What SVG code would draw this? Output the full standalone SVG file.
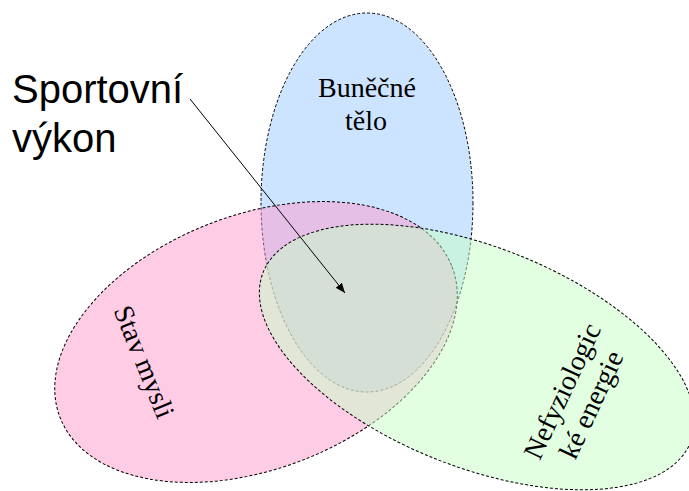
<svg xmlns="http://www.w3.org/2000/svg" width="689" height="491" viewBox="0 0 689 491">
<style>
.ell{stroke:#000;stroke-width:1;stroke-dasharray:3 2}
.lbl{font-family:"Liberation Serif","Times New Roman",serif;font-size:28px;fill:#000;text-anchor:middle}
.big{font-family:"Liberation Sans",Arial,sans-serif;font-size:40px;fill:#000}
</style>
<defs>
<marker id="ah" viewBox="0 0 10 10" refX="10" refY="5" markerWidth="10" markerHeight="10" markerUnits="userSpaceOnUse" orient="auto">
<path d="M0,1 L10,5 L0,9 z" fill="#000"/>
</marker>
</defs>
<rect width="689" height="491" fill="#fff"/>
<g id="bunecne-telo">
<ellipse class="ell" cx="367" cy="202.5" rx="106" ry="189.5" fill="#cce4ff"/>
</g>
<g id="stav-mysli">
<ellipse class="ell" cx="256" cy="342" rx="210" ry="127" transform="rotate(-21 256 342)" fill="rgb(255,153,205)" fill-opacity="0.5"/>
</g>
<g id="nefyziologicke-energie">
<ellipse class="ell" cx="477" cy="357" rx="230" ry="110" transform="rotate(21.6 477 357)" fill="rgb(197,255,197)" fill-opacity="0.5"/>
</g>
<g id="labels">
<text class="lbl" x="367" y="97">Buněčné</text>
<text class="lbl" x="366" y="130">tělo</text>
<text class="lbl" transform="translate(144 362) rotate(68)" x="0" y="9">Stav mysli</text>
<g transform="translate(577 398) rotate(-65)">
<text class="lbl" x="0" y="-7">Nefyziologic</text>
<text class="lbl" x="0" y="25">ké energie</text>
</g>
</g>
<g id="sportovni-vykon">
<text class="big" x="12" y="103">Sportovní</text>
<text class="big" x="12" y="152">výkon</text>
</g>
<g id="connectors">
<line x1="190" y1="99" x2="345" y2="293" stroke="#000" stroke-width="1" marker-end="url(#ah)"/>
</g>
</svg>
